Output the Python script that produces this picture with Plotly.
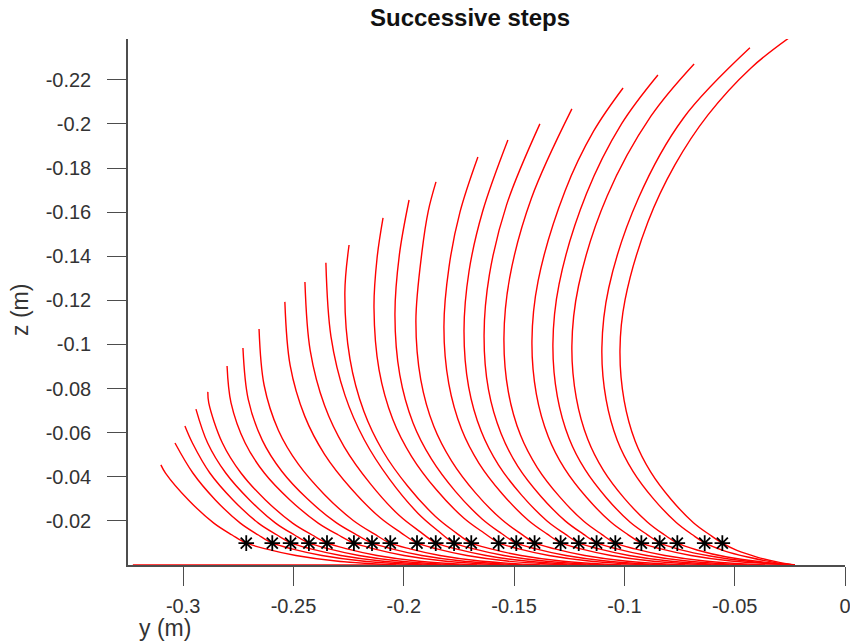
import plotly.graph_objects as go

# Successive shapes of the strip, (y, z) in metres, read off the reference
# picture, from the free end down to where it meets the ground.
step01_y = [-0.3101, -0.3080, -0.2976, -0.2861, -0.2778, -0.2715, -0.2625, -0.2489, -0.2307, -0.2035]
step01_z = [-0.0454, -0.0417, -0.0295, -0.0190, -0.0136, -0.0100, -0.0073, -0.0043, -0.0018, 0.0]
step02_y = [-0.3037, -0.2956, -0.2854, -0.2741, -0.2659, -0.2597, -0.2507, -0.2371, -0.2189, -0.1917]
step02_z = [-0.0553, -0.0417, -0.0295, -0.0190, -0.0136, -0.0100, -0.0073, -0.0043, -0.0018, 0.0]
step03_y = [-0.2992, -0.2958, -0.2879, -0.2774, -0.2659, -0.2574, -0.2511, -0.2421, -0.2285, -0.2103, -0.1831]
step03_z = [-0.0630, -0.0553, -0.0417, -0.0295, -0.0190, -0.0136, -0.0100, -0.0073, -0.0043, -0.0018, 0.0]
step04_y = [-0.2942, -0.2889, -0.2807, -0.2699, -0.2581, -0.2495, -0.2430, -0.2339, -0.2203, -0.2022, -0.1750]
step04_z = [-0.0707, -0.0553, -0.0417, -0.0295, -0.0190, -0.0136, -0.0100, -0.0073, -0.0043, -0.0018, 0.0]
step05_y = [-0.2888, -0.2884, -0.2822, -0.2738, -0.2627, -0.2504, -0.2415, -0.2348, -0.2257, -0.2121,
            -0.1940, -0.1668]
step05_z = [-0.0785, -0.0735, -0.0553, -0.0417, -0.0295, -0.0190, -0.0136, -0.0100, -0.0073, -0.0043,
            -0.0018, 0.0]
step06_y = [-0.2801, -0.2783, -0.2719, -0.2632, -0.2516, -0.2388, -0.2296, -0.2226, -0.2135, -0.1999,
            -0.1818, -0.1546]
step06_z = [-0.0902, -0.0735, -0.0553, -0.0417, -0.0295, -0.0190, -0.0136, -0.0100, -0.0073, -0.0043,
            -0.0018, 0.0]
step07_y = [-0.2729, -0.2705, -0.2641, -0.2553, -0.2437, -0.2308, -0.2214, -0.2144, -0.2054, -0.1918,
            -0.1736, -0.1464]
step07_z = [-0.0984, -0.0751, -0.0565, -0.0425, -0.0300, -0.0193, -0.0137, -0.0100, -0.0073, -0.0043,
            -0.0018, 0.0]
step08_y = [-0.2656, -0.2633, -0.2568, -0.2478, -0.2359, -0.2229, -0.2134, -0.2063, -0.1972, -0.1836,
            -0.1655, -0.1383]
step08_z = [-0.1070, -0.0815, -0.0610, -0.0457, -0.0319, -0.0202, -0.0141, -0.0100, -0.0073, -0.0043,
            -0.0018, 0.0]
step09_y = [-0.2539, -0.2515, -0.2449, -0.2359, -0.2239, -0.2108, -0.2012, -0.1940, -0.1850, -0.1714,
            -0.1532, -0.1260]
step09_z = [-0.1193, -0.0905, -0.0675, -0.0502, -0.0347, -0.0215, -0.0146, -0.0100, -0.0073, -0.0043,
            -0.0018, 0.0]
step10_y = [-0.2448, -0.2424, -0.2359, -0.2270, -0.2151, -0.2020, -0.1925, -0.1854, -0.1763, -0.1627,
            -0.1446, -0.1174]
step10_z = [-0.1283, -0.0972, -0.0723, -0.0536, -0.0368, -0.0224, -0.0150, -0.0100, -0.0073, -0.0043,
            -0.0018, 0.0]
step11_y = [-0.2353, -0.2330, -0.2266, -0.2179, -0.2063, -0.1935, -0.1842, -0.1772, -0.1682, -0.1546,
            -0.1364, -0.1092]
step11_z = [-0.1370, -0.1036, -0.0768, -0.0568, -0.0387, -0.0234, -0.0153, -0.0100, -0.0073, -0.0043,
            -0.0018, 0.0]
step12_y = [-0.2248, -0.2267, -0.2244, -0.2181, -0.2095, -0.1981, -0.1855, -0.1764, -0.1695, -0.1605,
            -0.1469, -0.1287, -0.1015]
step12_z = [-0.1451, -0.1234, -0.0935, -0.0697, -0.0517, -0.0356, -0.0219, -0.0147, -0.0100, -0.0073,
            -0.0043, -0.0018, 0.0]
step13_y = [-0.2094, -0.2121, -0.2135, -0.2112, -0.2050, -0.1965, -0.1852, -0.1727, -0.1636, -0.1568,
            -0.1478, -0.1342, -0.1160, -0.0888]
step13_z = [-0.1574, -0.1392, -0.1166, -0.0885, -0.0661, -0.0493, -0.0341, -0.0212, -0.0145, -0.0100,
            -0.0073, -0.0043, -0.0018, 0.0]
step14_y = [-0.1976, -0.2020, -0.2040, -0.2018, -0.1958, -0.1875, -0.1766, -0.1645, -0.1557, -0.1491,
            -0.1401, -0.1265, -0.1083, -0.0811]
step14_z = [-0.1655, -0.1406, -0.1134, -0.0862, -0.0644, -0.0481, -0.0334, -0.0209, -0.0143, -0.0100,
            -0.0073, -0.0043, -0.0018, 0.0]
step15_y = [-0.1854, -0.1889, -0.1917, -0.1945, -0.1923, -0.1864, -0.1783, -0.1675, -0.1556, -0.1470,
            -0.1405, -0.1315, -0.1179, -0.0997, -0.0725]
step15_z = [-0.1737, -0.1605, -0.1424, -0.1107, -0.0841, -0.0629, -0.0471, -0.0327, -0.0206, -0.0142,
            -0.0100, -0.0073, -0.0043, -0.0018, 0.0]
step16_y = [-0.1664, -0.1745, -0.1795, -0.1818, -0.1796, -0.1738, -0.1659, -0.1553, -0.1436, -0.1351,
            -0.1287, -0.1197, -0.1061, -0.0879, -0.0607]
step16_z = [-0.1850, -0.1601, -0.1351, -0.1079, -0.0822, -0.0615, -0.0461, -0.0322, -0.0203, -0.0141,
            -0.0100, -0.0073, -0.0043, -0.0018, 0.0]
step17_y = [-0.1528, -0.1642, -0.1704, -0.1727, -0.1706, -0.1649, -0.1571, -0.1466, -0.1352, -0.1268,
            -0.1206, -0.1115, -0.0979, -0.0798, -0.0526]
step17_z = [-0.1927, -0.1605, -0.1333, -0.1061, -0.0808, -0.0606, -0.0454, -0.0317, -0.0201, -0.0140,
            -0.0100, -0.0073, -0.0043, -0.0018, 0.0]
step18_y = [-0.1383, -0.1534, -0.1612, -0.1636, -0.1616, -0.1559, -0.1483, -0.1380, -0.1267, -0.1186,
            -0.1124, -0.1034, -0.0898, -0.0716, -0.0444]
step18_z = [-0.2000, -0.1633, -0.1315, -0.1043, -0.0795, -0.0596, -0.0447, -0.0313, -0.0199, -0.0140,
            -0.0100, -0.0073, -0.0043, -0.0018, 0.0]
step19_y = [-0.1238, -0.1421, -0.1520, -0.1546, -0.1526, -0.1471, -0.1395, -0.1294, -0.1184, -0.1103,
            -0.1043, -0.0952, -0.0816, -0.0635, -0.0363]
step19_z = [-0.2068, -0.1664, -0.1302, -0.1029, -0.0785, -0.0589, -0.0442, -0.0310, -0.0198, -0.0139,
            -0.0100, -0.0073, -0.0043, -0.0018, 0.0]
step20_y = [-0.1006, -0.1139, -0.1269, -0.1391, -0.1419, -0.1399, -0.1345, -0.1271, -0.1172, -0.1063,
            -0.0984, -0.0925, -0.0834, -0.0698, -0.0517, -0.0227]
step20_z = [-0.2163, -0.1968, -0.1696, -0.1288, -0.1016, -0.0775, -0.0582, -0.0437, -0.0307, -0.0196,
            -0.0138, -0.0100, -0.0073, -0.0043, -0.0018, 0.0]
step21_y = [-0.0848, -0.1013, -0.1172, -0.1296, -0.1324, -0.1304, -0.1251, -0.1178, -0.1081, -0.0975,
            -0.0897, -0.0839, -0.0748, -0.0612, -0.0431, -0.0227]
step21_z = [-0.2222, -0.2000, -0.1683, -0.1274, -0.1002, -0.0765, -0.0575, -0.0432, -0.0304, -0.0195,
            -0.0138, -0.0100, -0.0070, -0.0041, -0.0016, 0.0]
step22_y = [-0.0684, -0.0879, -0.1078, -0.1208, -0.1238, -0.1218, -0.1166, -0.1095, -0.1000, -0.0895,
            -0.0819, -0.0762, -0.0671, -0.0535, -0.0376, -0.0227]
step22_z = [-0.2272, -0.2036, -0.1673, -0.1265, -0.0993, -0.0758, -0.0570, -0.0429, -0.0302, -0.0194,
            -0.0137, -0.0100, -0.0068, -0.0036, -0.0014, 0.0]
step23_y = [-0.0431, -0.0732, -0.0936, -0.1071, -0.1102, -0.1083, -0.1032, -0.0961, -0.0868, -0.0765,
            -0.0691, -0.0635, -0.0544, -0.0431, -0.0317, -0.0227]
step23_z = [-0.2345, -0.2027, -0.1664, -0.1256, -0.0984, -0.0751, -0.0565, -0.0425, -0.0300, -0.0193,
            -0.0137, -0.0100, -0.0063, -0.0034, -0.0011, 0.0]
step24_y = [-0.0254, -0.0426, -0.0621, -0.0771, -0.0893, -0.0997, -0.1020, -0.1001, -0.0951, -0.0881,
            -0.0789, -0.0687, -0.0613, -0.0558, -0.0490, -0.0399, -0.0308, -0.0227]
step24_z = [-0.2390, -0.2254, -0.2041, -0.1814, -0.1556, -0.1202, -0.0975, -0.0745, -0.0561, -0.0422,
            -0.0298, -0.0192, -0.0137, -0.0100, -0.0066, -0.0036, -0.0014, 0.0]

steps = [
    (step01_y, step01_z), (step02_y, step02_z), (step03_y, step03_z), (step04_y, step04_z),
    (step05_y, step05_z), (step06_y, step06_z), (step07_y, step07_z), (step08_y, step08_z),
    (step09_y, step09_z), (step10_y, step10_z), (step11_y, step11_z), (step12_y, step12_z),
    (step13_y, step13_z), (step14_y, step14_z), (step15_y, step15_z), (step16_y, step16_z),
    (step17_y, step17_z), (step18_y, step18_z), (step19_y, step19_z), (step20_y, step20_z),
    (step21_y, step21_z), (step22_y, step22_z), (step23_y, step23_z), (step24_y, step24_z),
]

# initial state: lying flat on the ground
ground_y = [-0.3228, -0.0227]
ground_z = [0.0, 0.0]

# marked point of each step
marker_y = [-0.2714, -0.2596, -0.2513, -0.2430, -0.2348, -0.2226, -0.2144, -0.2061,
            -0.1940, -0.1855, -0.1772, -0.1694, -0.1570, -0.1490, -0.1407, -0.1289,
            -0.1207, -0.1126, -0.1041, -0.0923, -0.0840, -0.0760, -0.0636, -0.0556]
marker_z = [-0.0099] * len(marker_y)

x_ticks = [-0.3, -0.25, -0.2, -0.15, -0.1, -0.05, 0]
x_tick_text = ["-0.3", "-0.25", "-0.2", "-0.15", "-0.1", "-0.05", "0"]
y_ticks = [-0.22, -0.2, -0.18, -0.16, -0.14, -0.12, -0.1, -0.08, -0.06, -0.04, -0.02]
y_tick_text = ["-0.22", "-0.2", "-0.18", "-0.16", "-0.14", "-0.12", "-0.1",
               "-0.08", "-0.06", "-0.04", "-0.02"]

RED = "#ff0000"
AXIS = "#4d4d4d"
FONT = "Liberation Sans, Arial, sans-serif"

fig = go.Figure()

fig.add_trace(go.Scatter(x=ground_y, y=ground_z, mode="lines",
                         line=dict(color=RED, width=1.4), hoverinfo="skip"))

for ys, zs in steps:
    fig.add_trace(go.Scatter(
        x=ys, y=zs, mode="lines",
        line=dict(color=RED, width=1.4, shape="spline", smoothing=1.0),
        hoverinfo="skip",
    ))

fig.add_trace(go.Scatter(
    x=marker_y, y=marker_z, mode="markers",
    marker=dict(symbol="asterisk-open", size=13, color="black",
                line=dict(color="black", width=1.8)),
    hoverinfo="skip",
))

axis_common = dict(
    showline=True, linecolor=AXIS, linewidth=1.5,
    ticks="outside", ticklen=19, tickwidth=1.4, tickcolor=AXIS,
    showgrid=False, zeroline=False, layer="below traces",
    automargin=False, ticklabeloverflow="allow",
    tickfont=dict(family=FONT, size=20, color="#333333"),
)

fig.update_layout(
    width=850, height=641,
    margin=dict(l=128, r=5, t=39, b=76),
    paper_bgcolor="white", plot_bgcolor="white",
    showlegend=False,
    title=dict(text="<b>Successive steps</b>", x=0.553, xref="container", xanchor="center",
               y=1 - 18 / 641, yref="container", yanchor="middle",
               font=dict(family=FONT, size=24, color="#111111")),
    xaxis=dict(range=[-0.325, 0], tickvals=x_ticks, ticktext=x_tick_text,
               ticklabelstandoff=3, **axis_common),
    yaxis=dict(range=[0, -0.2385], tickvals=y_ticks, ticktext=y_tick_text,
               ticklabelstandoff=12, **axis_common),
    annotations=[
        dict(text="y (m)", xref="paper", yref="paper", x=(165 - 128) / 717, y=(565 - 628) / 526,
             showarrow=False, xanchor="center", yanchor="middle",
             font=dict(family=FONT, size=23, color="#333333")),
        dict(text="z (m)", xref="paper", yref="paper", x=(20 - 128) / 717, y=(565 - 310) / 526,
             showarrow=False, textangle=-90, xanchor="center", yanchor="middle",
             font=dict(family=FONT, size=23, color="#333333")),
    ],
)

# the page body has a default 8px margin; drop it so the figure sits at the corner
fig.write_html("out.html", config={"displayModeBar": False},
               post_script="document.body.style.margin = '0';")
